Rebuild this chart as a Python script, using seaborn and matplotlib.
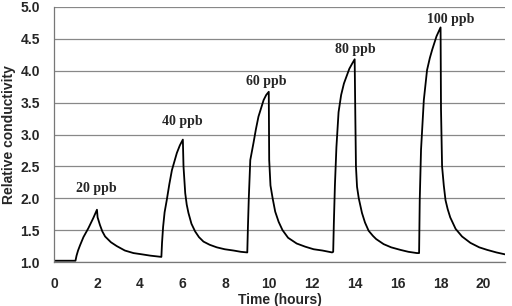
import pandas as pd
import matplotlib
matplotlib.use("Agg")
import matplotlib.pyplot as plt
import seaborn as sns

# values
time_h = [0.0, 1.0, 1.05, 1.12, 1.21, 1.37, 1.6, 1.83, 2.0, 2.03, 2.14, 2.25, 2.38, 2.65, 2.92, 3.3, 3.7, 4.1, 4.48, 5.0,
          5.03, 5.08, 5.15, 5.25, 5.37, 5.49, 5.72, 5.86, 6.0, 6.03, 6.11, 6.18, 6.26, 6.4, 6.57, 6.75, 6.96, 7.25, 7.58, 7.95, 8.36, 8.7, 9.0,
          9.03, 9.07, 9.14, 9.29, 9.4, 9.52, 9.76, 9.88, 10.0, 10.02, 10.08, 10.18, 10.3, 10.46, 10.64, 10.9, 11.3, 11.7, 12.09, 12.5, 12.95, 13.0,
          13.03, 13.08, 13.15, 13.25, 13.37, 13.5, 13.75, 13.88, 14.0, 14.03, 14.06, 14.11, 14.19, 14.34, 14.48, 14.65, 14.85, 15.0, 15.35, 15.7, 16.13, 16.5, 16.9, 17.0,
          17.03, 17.09, 17.22, 17.37, 17.5, 17.61, 17.81, 18.0, 18.02, 18.07, 18.15, 18.23, 18.33, 18.45, 18.7, 19.0, 19.39, 19.8, 20.17, 20.6, 21.0]
conductivity = [1.02, 1.02, 1.10, 1.18, 1.26, 1.39, 1.53, 1.69, 1.82, 1.70, 1.58, 1.48, 1.40, 1.31, 1.25, 1.18, 1.14, 1.12, 1.10, 1.08,
                1.30, 1.55, 1.78, 1.97, 2.22, 2.44, 2.71, 2.83, 2.92, 2.50, 2.08, 1.90, 1.77, 1.60, 1.48, 1.39, 1.32, 1.27, 1.23, 1.20, 1.18, 1.16, 1.15,
                1.55, 2.0, 2.6, 2.87, 3.08, 3.28, 3.54, 3.62, 3.67, 2.6, 2.2, 2.0, 1.79, 1.63, 1.5, 1.38, 1.29, 1.24, 1.20, 1.18, 1.15, 1.16,
                1.6, 2.2, 2.8, 3.35, 3.62, 3.8, 4.03, 4.11, 4.18, 3.3, 2.5, 2.18, 2.0, 1.77, 1.62, 1.49, 1.41, 1.36, 1.28, 1.23, 1.19, 1.16, 1.14, 1.14,
                1.97, 2.76, 3.54, 4.01, 4.2, 4.33, 4.54, 4.68, 3.4, 2.5, 2.2, 1.97, 1.83, 1.7, 1.52, 1.40, 1.30, 1.23, 1.19, 1.15, 1.12]

labels = ["20 ppb", "40 ppb", "60 ppb", "80 ppb", "100 ppb"]
label_x = [1.98, 5.96, 9.9, 14.04, 18.46]
label_y = [2.16, 3.21, 3.83, 4.34, 4.80]

df = pd.DataFrame({"time": time_h, "cond": conductivity})

sns.set_style("white")
plt.rcParams["font.family"] = ["Liberation Sans", "DejaVu Sans"]

fig = plt.figure(figsize=(5.12, 3.06), dpi=100)
ax = fig.add_axes([54/512, 1 - 262/306, (505 - 54)/512, (262 - 7)/306])

sns.lineplot(x="time", y="cond", data=df, ax=ax, color="black", linewidth=1.3,
             estimator=None, sort=False)

for lab, lx, ly in zip(labels, label_x, label_y):
    ax.text(lx, ly, lab, ha="center", va="center", fontsize=10, fontweight="bold",
            family="Liberation Serif")

ax.set_xlim(0, 21)
ax.set_ylim(1.0, 5.0)
ax.set_xticks(range(0, 21, 2))
ax.set_yticks([1.0, 1.5, 2.0, 2.5, 3.0, 3.5, 4.0, 4.5, 5.0])
ax.set_yticklabels([f"{v:.1f}" for v in ax.get_yticks()])
ax.yaxis.grid(True, color="#888888", linewidth=0.9)
ax.xaxis.grid(False)
ax.set_axisbelow(True)

for s in ["top", "right"]:
    ax.spines[s].set_visible(False)
for s in ["left", "bottom"]:
    ax.spines[s].set_color("#777777")
    ax.spines[s].set_linewidth(0.9)

ax.tick_params(axis="both", direction="out", length=4, width=0.9, color="#777777",
               labelsize=10)
ax.tick_params(axis="x", pad=7)
ax.tick_params(axis="y", pad=6)
for t in ax.get_xticklabels() + ax.get_yticklabels():
    t.set_fontweight("bold")

ax.set_xlabel("Time (hours)", fontsize=10, fontweight="bold", labelpad=1)
ax.set_ylabel("Relative conductivity", fontsize=10, fontweight="bold", labelpad=3)

fig.savefig("out.png", dpi=100)
